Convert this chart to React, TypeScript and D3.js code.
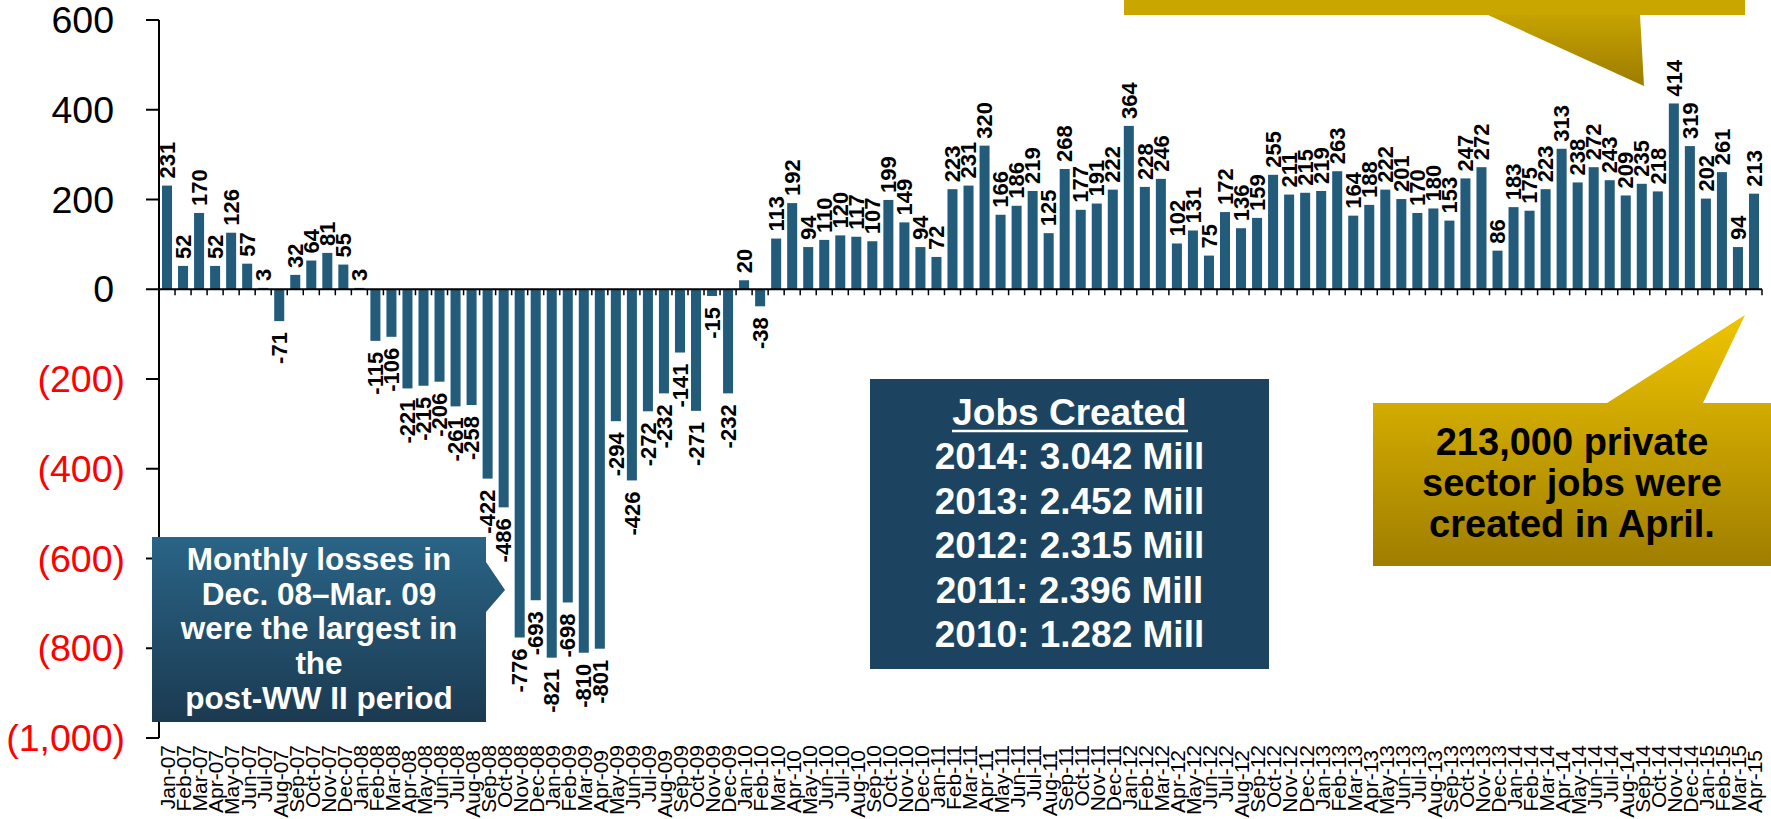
import React from "react";
import * as d3 from "d3";

const MONTHS = ["Jan", "Feb", "Mar", "Apr", "May", "Jun", "Jul", "Aug", "Sep", "Oct", "Nov", "Dec"];
const YEARS = ["07", "08", "09", "10", "11", "12", "13", "14", "15"];
const categories: string[] = YEARS.flatMap((yr) => MONTHS.map((m) => `${m}-${yr}`)).slice(0, 100);

const jobs2007 = [231, 52, 170, 52, 126, 57, 3, -71, 32, 64, 81, 55];
const jobs2008 = [3, -115, -106, -221, -215, -206, -261, -258, -422, -486, -776, -693];
const jobs2009 = [-821, -698, -810, -801, -294, -426, -272, -232, -141, -271, -15, -232];
const jobs2010 = [20, -38, 113, 192, 94, 110, 120, 117, 107, 199, 149, 94];
const jobs2011 = [72, 223, 231, 320, 166, 186, 219, 125, 268, 177, 191, 222];
const jobs2012 = [364, 228, 246, 102, 131, 75, 172, 136, 159, 255, 211, 215];
const jobs2013 = [219, 263, 164, 188, 222, 201, 170, 180, 153, 247, 272, 86];
const jobs2014 = [183, 175, 223, 313, 238, 272, 243, 209, 235, 218, 414, 319];
const jobs2015 = [202, 261, 94, 213];
const jobs = [...jobs2007, ...jobs2008, ...jobs2009, ...jobs2010, ...jobs2011, ...jobs2012, ...jobs2013, ...jobs2014, ...jobs2015];

const yTicks = [600, 400, 200, 0, -200, -400, -600, -800, -1000];

const jobsTitle = "Jobs Created";
const jobsCreated = ["2014: 3.042 Mill", "2013: 2.452 Mill", "2012: 2.315 Mill", "2011: 2.396 Mill", "2010: 1.282 Mill"];
const lossNote = ["Monthly losses in", "Dec. 08\u2013Mar. 09", "were the largest in", "the", "post-WW II period"];
const aprilNote = ["213,000 private", "sector jobs were", "created in April."];

const FONT = "'Liberation Sans', Arial, Helvetica, sans-serif";
const BAR = "#235b7b";

export default function App() {
  const W = 1771, H = 819;
  const x0 = 159, x1 = 1762, yTop = 20, yBot = 738;
  const x = d3.scaleBand<string>().domain(categories).range([x0, x1]).paddingInner(0.375).paddingOuter(0.1875);
  const y = d3.scaleLinear().domain([-1000, 600]).range([yBot, yTop]);
  const yZero = y(0);
  const fmt = d3.format(",");
  const bw = x.bandwidth();
  const step = x.step();

  return (
    <svg width={W} height={H} style={{ position: "absolute", left: 0, top: 0, background: "#fff" }} fontFamily={FONT}>
      <defs>
        <linearGradient id="lossGrad" x1="0" y1="0" x2="0" y2="1">
          <stop offset="0" stopColor="#2a6486" />
          <stop offset="1" stopColor="#1b3a51" />
        </linearGradient>
        <linearGradient id="goldGrad" gradientUnits="userSpaceOnUse" x1="0" y1="315" x2="0" y2="566">
          <stop offset="0" stopColor="#efc400" />
          <stop offset="1" stopColor="#9f7e00" />
        </linearGradient>
        <linearGradient id="goldTop" gradientUnits="userSpaceOnUse" x1="0" y1="0" x2="0" y2="86">
          <stop offset="0" stopColor="#cfab00" />
          <stop offset="1" stopColor="#9c7c00" />
        </linearGradient>
      </defs>

      {/* Bars */}
      {jobs.map((v, i) => {
        const c = categories[i];
        const yv = y(v);
        return (
          <rect key={c} x={x(c)} width={bw} y={Math.min(yv, yZero)} height={Math.abs(yv - yZero)} fill={BAR} />
        );
      })}

      {/* Data labels */}
      {jobs.map((v, i) => {
        const c = categories[i];
        const cx = (x(c) as number) + bw / 2;
        const yv = y(v);
        const pos = v >= 0;
        const ay = pos ? yv - 7 : yv + 11;
        return (
          <text
            key={"l" + c}
            transform={`translate(${cx},${ay}) rotate(-90)`}
            textAnchor={pos ? "start" : "end"}
            dy="0.35em"
            fontSize={22}
            fontWeight="bold"
            fill="#000"
          >
            {String(v)}
          </text>
        );
      })}

      {/* Y axis */}
      <line x1={x0} x2={x0} y1={y(600)} y2={y(-1000)} stroke="#000" strokeWidth={2} />
      {yTicks.map((t) => (
        <g key={"t" + t}>
          <line x1={x0 - 13} x2={x0} y1={y(t)} y2={y(t)} stroke="#000" strokeWidth={2} />
          <text
            x={t < 0 ? 125 : 114}
            y={y(t)}
            dy="0.35em"
            textAnchor="end"
            fontSize={37.5}
            fill={t < 0 ? "#ff0000" : "#000"}
          >
            {t < 0 ? `(${fmt(-t)})` : fmt(t)}
          </text>
        </g>
      ))}

      {/* Zero axis */}
      <line x1={x0} x2={x1} y1={yZero} y2={yZero} stroke="#000" strokeWidth={2} />
      {d3.range(1, categories.length + 1).map((i) => {
        const bx = x0 + i * step;
        return <line key={"zt" + i} x1={bx} x2={bx} y1={yZero} y2={yZero + 6} stroke="#000" strokeWidth={1.5} />;
      })}

      {/* X labels */}
      {categories.map((c) => {
        const cx = (x(c) as number) + bw / 2;
        const m = c.slice(0, 3);
        const off = m === "Apr" || m === "Aug" ? 5 : 0;
        return (
          <text
            key={"x" + c}
            transform={`translate(${cx + 1},${745 + off}) rotate(-90)`}
            textAnchor="end"
            dy="0.35em"
            fontSize={21}
            fill="#000"
          >
            {c}
          </text>
        );
      })}

      {/* Loss callout */}
      <path d="M152,537 H486 V562 L505,590 L486,612 V722 H152 Z" fill="url(#lossGrad)" />
      {lossNote.map((s, i) => (
        <text key={"ln" + i} x={319} y={570 + i * 34.7} textAnchor="middle" fontSize={31.5} fontWeight="bold" fill="#fff">
          {s}
        </text>
      ))}

      {/* Jobs created box */}
      <rect x={870} y={379} width={399} height={290} fill="#1c4461" />
      <text x={1069.5} y={425} textAnchor="middle" fontSize={37} fontWeight="bold" fill="#fff">
        {jobsTitle}
      </text>
      <line x1={952} x2={1188} y1={431} y2={431} stroke="#fff" strokeWidth={2.5} />
      {jobsCreated.map((s, i) => (
        <text key={"jc" + i} x={1069.5} y={469 + i * 44.5} textAnchor="middle" fontSize={37} fontWeight="bold" fill="#fff">
          {s}
        </text>
      ))}

      {/* April callout */}
      <path d="M1373,403 H1607 L1745,315 L1703,403 H1771 V566 H1373 Z" fill="url(#goldGrad)" />
      {aprilNote.map((s, i) => (
        <text key={"an" + i} x={1572} y={455 + i * 41} textAnchor="middle" fontSize={38} fontWeight="bold" fill="#000">
          {s}
        </text>
      ))}

      {/* Top callout (mostly off-screen) */}
      <rect x={1124} y={-20} width={621} height={35} fill="#caa600" />
      <path d="M1488,15 L1644,86 L1640,15 Z" fill="url(#goldTop)" />
    </svg>
  );
}
